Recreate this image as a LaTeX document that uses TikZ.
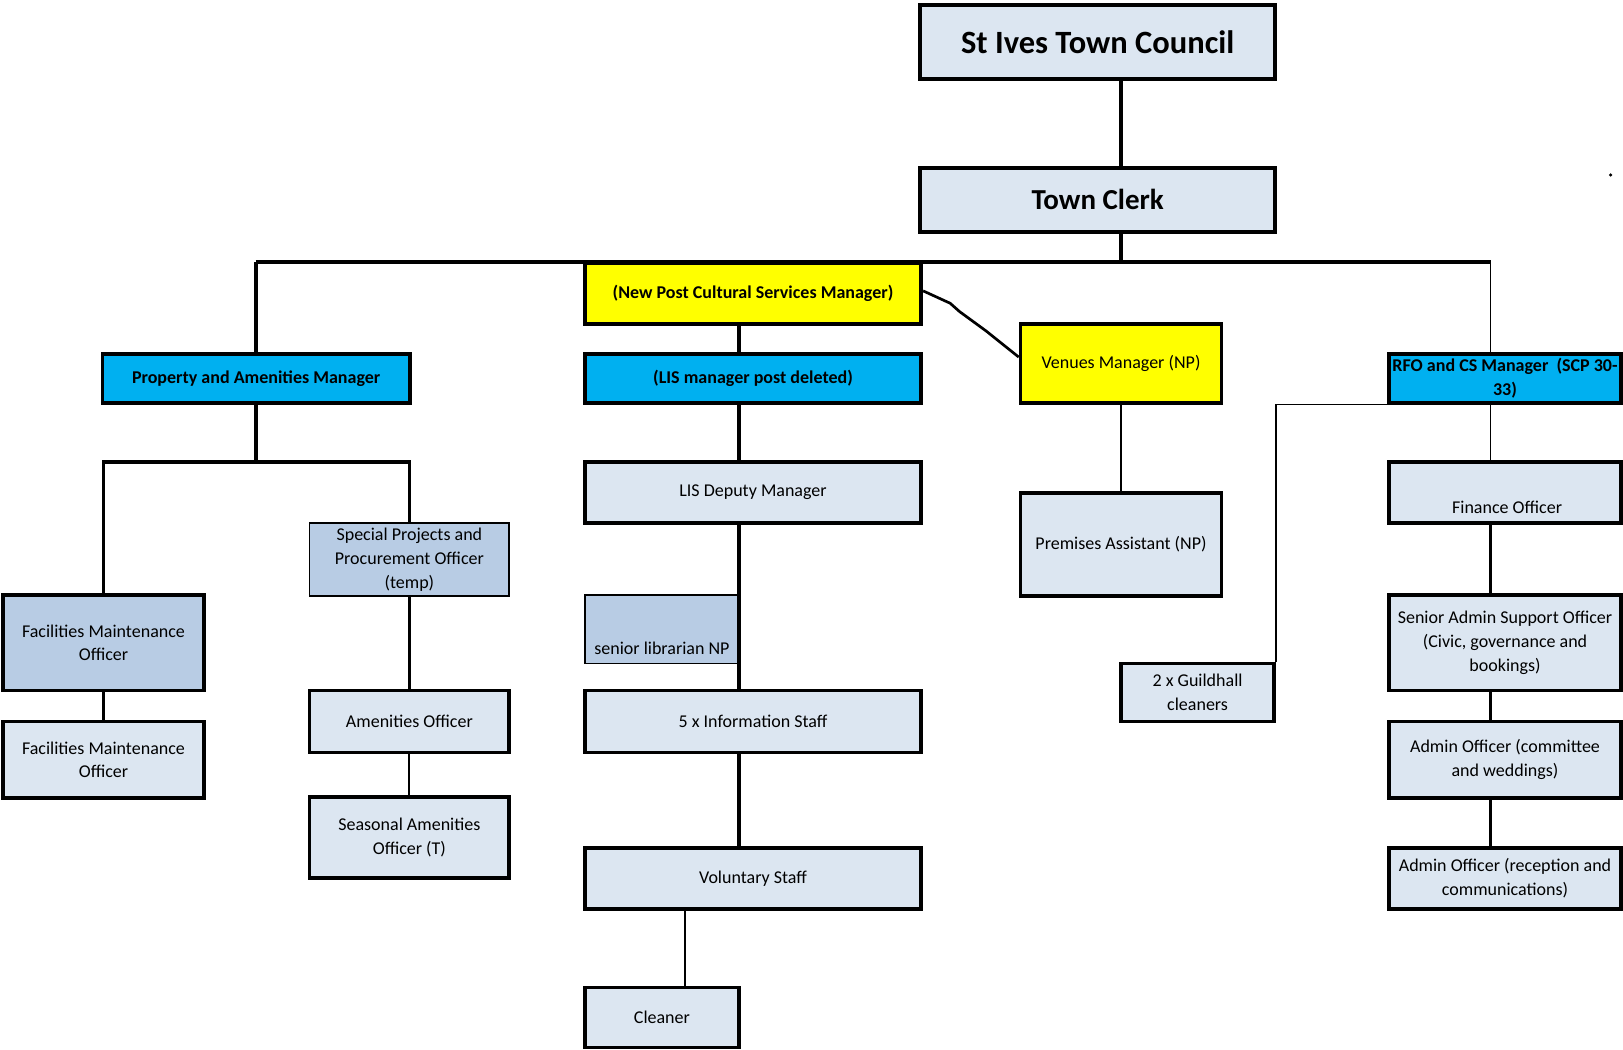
\documentclass[tikz,border=0pt]{standalone}
\usepackage{fontspec}
\setmainfont{Carlito}
\definecolor{lightfill}{HTML}{DCE6F1}
\definecolor{midfill}{HTML}{B8CCE4}
\definecolor{cyanfill}{HTML}{00B0F0}
\definecolor{yellowfill}{HTML}{FFFF00}
\begin{document}
\begin{tikzpicture}[x=1pt,y=-1pt,
  box/.style={draw=black, line width=3.6pt, inner sep=0pt, align=center,
    font=\fontsize{17.4}{23}\selectfont, text=black},
  thinbox/.style={box, line width=1.8pt},
  lt/.style={fill=lightfill},
  md/.style={fill=midfill},
  cy/.style={fill=cyanfill, font=\fontsize{17.4}{23}\selectfont\bfseries},
  ye/.style={fill=yellowfill},
  thick conn/.style={draw=black, line width=3.6pt},
  thin conn/.style={draw=black, line width=1.8pt},
  plain text/.style={inner sep=0pt, font=\fontsize{17.4}{23}\selectfont, text=black}
]
\useasboundingbox (0,0) rectangle (1568,1014);

% top
\node[box, lt, minimum width=343pt, minimum height=71pt, font=\fontsize{31.4}{34}\selectfont\bfseries] (council) at (1060.5,40.5) {St Ives Town Council};
\node[box, lt, minimum width=343pt, minimum height=62pt, font=\fontsize{28}{31}\selectfont\bfseries] (clerk) at (1060.5,193) {Town Clerk};

% second level
\node[box, ye, minimum width=325pt, minimum height=59pt, font=\fontsize{17.4}{23}\selectfont\bfseries] (npcsm) at (727.5,283.5) {(New Post Cultural Services Manager)};
\node[box, cy, minimum width=325pt, minimum height=47pt] (lis) at (727.5,365.5) {(LIS manager post deleted)};
\node[box, cy, minimum width=297pt, minimum height=47pt] (pam) at (247.5,365.5) {Property and Amenities Manager};
\node[box, ye, minimum width=194pt, minimum height=76pt] (venues) at (1083,351) {Venues Manager (NP)};
\node[box, cy, minimum width=224pt, minimum height=47pt] (rfo) at (1454,365.5) {RFO and CS Manager\ \ (SCP 30-\\33)};

% left branch
\node[box, md, minimum width=194pt, minimum height=92pt] (fmo1) at (100,621) {Facilities Maintenance\\Officer};
\node[box, lt, minimum width=194pt, minimum height=74pt] (fmo2) at (100,734) {Facilities Maintenance\\Officer};
\node[thinbox, md, minimum width=193pt, minimum height=71pt] (spp) at (395.5,540.5) {Special Projects and\\Procurement Officer\\(temp)};
\node[box, lt, minimum width=193pt, minimum height=60pt] (amen) at (395.5,697) {Amenities Officer};
\node[box, lt, minimum width=193pt, minimum height=78pt] (seas) at (395.5,809) {Seasonal Amenities\\Officer (T)};

% middle branch
\node[box, lt, minimum width=325pt, minimum height=59pt] (lisdep) at (727.5,475.5) {LIS Deputy Manager};
\node[thinbox, md, minimum width=149pt, minimum height=66pt] (senlib) at (639.5,608) {};
\node[plain text] (senlibtxt) at (639.5,626) {senior librarian NP};
\node[box, lt, minimum width=325pt, minimum height=60pt] (info) at (727.5,697) {5 x Information Staff};
\node[box, lt, minimum width=325pt, minimum height=59pt] (vol) at (727.5,848.5) {Voluntary Staff};
\node[box, lt, minimum width=149pt, minimum height=58pt] (cleaner) at (639.5,983) {Cleaner};

% venues branch
\node[box, lt, minimum width=194pt, minimum height=100pt] (prem) at (1083,526) {Premises Assistant (NP)};
\node[box, lt, minimum width=148pt, minimum height=56pt] (guild) at (1157,669) {2 x Guildhall\\cleaners};

% right branch
\node[box, lt, minimum width=224pt, minimum height=59pt] (fin) at (1454,475.5) {};
\node[plain text] (fintxt) at (1456,490) {Finance Officer};
\node[box, lt, minimum width=224pt, minimum height=92pt] (sas) at (1454,621) {Senior Admin Support Officer\\(Civic, governance and\\bookings)};
\node[box, lt, minimum width=224pt, minimum height=74pt] (adm1) at (1454,734) {Admin Officer (committee\\and weddings)};
\node[box, lt, minimum width=224pt, minimum height=59pt] (adm2) at (1454,848.5) {Admin Officer (reception and\\communications)};

% coordinates for connector columns
\coordinate (j0) at (1083,253);
\coordinate (busL) at (247,253);
\coordinate (busR) at (1440,253);
\coordinate (pamj) at (247,446);
\coordinate (cl) at (714,0);
\coordinate (cl2) at (662,0);
\coordinate (rc) at (1440,0);

% connectors
\draw[thick conn] (council.south -| j0) -- (clerk.north -| j0);
\draw[thick conn] (clerk.south -| j0) -- (j0);
\draw[thick conn] (busL) -- (busR);
\draw[thick conn] (busL) -- (pam.north -| busL);
\draw[thin conn] (busR) -- (rfo.north -| busR);

\draw[thick conn] (pam.south -| pamj) -- (pamj);
\draw[thick conn] (fmo1.north) -- (fmo1.north |- pamj) -- (spp.north |- pamj) -- (spp.north);
\draw[thick conn] (fmo1.south) -- (fmo2.north);
\draw[thick conn] (spp.south) -- (amen.north);
\draw[thin conn] (amen.south) -- (seas.north);

\draw[thick conn] (npcsm.south -| cl) -- (lis.north -| cl);
\draw[thick conn] (lis.south -| cl) -- (lisdep.north -| cl);
\draw[thick conn] (lisdep.south -| cl) -- (info.north -| cl);
\draw[thick conn] (info.south -| cl) -- (vol.north -| cl);
\draw[thin conn] (vol.south -| cl2) -- (cleaner.north -| cl2);

\draw[draw=black, line width=2.6pt, line join=round] (npcsm.east |- 0,281) -- (918,293) -- (927,301) -- (953,320) -- (venues.west |- 0,345);
\draw[thin conn] (venues.south) -- (prem.north);
\draw[thin conn] (rfo.south west) -- (guild.north east |- rfo.south west) -- (guild.north east);

\draw[thin conn] (rfo.south -| rc) -- (fin.north -| rc);
\draw[thick conn] (fin.south -| rc) -- (sas.north -| rc);
\draw[thick conn] (sas.south -| rc) -- (adm1.north -| rc);
\draw[thick conn] (adm1.south -| rc) -- (adm2.north -| rc);

% stray dot
\fill[black] (1556,169) circle (1.7pt);
\end{tikzpicture}
\end{document}
